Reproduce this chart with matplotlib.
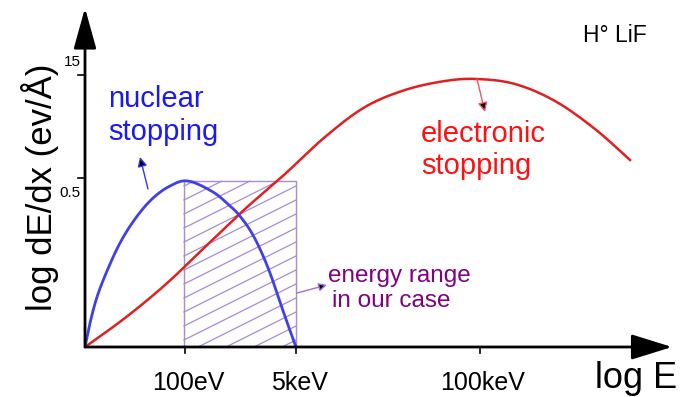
import numpy as np
from matplotlib import pyplot as plt

plt.rcParams['font.family'] = ['Liberation Sans', 'DejaVu Sans']

# schematic units: x = position along log E axis, y = log dE/dx (arbitrary)
nuclearX = [0, 5, 12, 22, 35, 50, 67, 85, 103, 128, 145, 154, 165, 175, 185, 195, 203, 211]
nuclearY = [0, 24, 50, 76, 104, 128, 148, 161, 166, 155, 141, 132, 117, 98, 74, 45, 22, 0]
electronicX = [0, 40, 80, 120, 160, 200, 240, 280, 320, 360, 392, 430, 470, 510, 545]
electronicY = [0, 29, 62, 100, 138, 173, 210, 240, 257, 266, 268, 263, 246, 218, 187]
rangeX = [99, 211]
rangeTop = 166
xTickPos = [100, 211, 395]
xTickLabels = ["100eV", "5keV", "100keV"]
yTickPos = [272, 169]
yTickLabels = ["15", "0.5"]


def smooth(xs, ys, n=20):
    # catmull-rom through the read points
    p = np.column_stack([xs, ys]).astype(float)
    p = np.vstack([p[0], p, p[-1]])
    out = []
    for i in range(1, len(p) - 2):
        p0, p1, p2, p3 = p[i - 1], p[i], p[i + 1], p[i + 2]
        t = np.linspace(0, 1, n, endpoint=False)[:, None]
        seg = 0.5 * ((2 * p1) + (-p0 + p2) * t + (2 * p0 - 5 * p1 + 4 * p2 - p3) * t ** 2
                     + (-p0 + 3 * p1 - 3 * p2 + p3) * t ** 3)
        out.append(seg)
    out.append(p[-2][None, :])
    out = np.vstack(out)
    return out[:, 0], out[:, 1]


fig = plt.figure(figsize=(6.84, 3.97), dpi=100)
ax = fig.add_axes([85 / 684, 50 / 397, 585 / 684, 337 / 397])
ax.set_xlim(0, 585)
ax.set_ylim(0, 337)
ax.axis('off')

# axes with arrows
ax.annotate('', xy=(587, 0), xytext=(0, 0), annotation_clip=False,
            arrowprops=dict(arrowstyle='-|>,head_length=0.9,head_width=0.28', color='black', lw=2,
                            mutation_scale=28, shrinkA=0, shrinkB=0))
ax.annotate('', xy=(0, 339), xytext=(0, 0), annotation_clip=False,
            arrowprops=dict(arrowstyle='-|>,head_length=0.9,head_width=0.25', color='black', lw=2,
                            mutation_scale=28, shrinkA=0, shrinkB=0))

for xt, lab in zip(xTickPos, xTickLabels):
    ax.plot([xt, xt], [0, -6], color='black', lw=1.2, clip_on=False)
    ax.text(xt + 3, -43, lab, ha='center', va='baseline', fontsize=18, clip_on=False)
ax.plot([-7, 0], [yTickPos[0]] * 2, color='black', lw=1.2, clip_on=False)
ax.plot([-7, 0], [yTickPos[1]] * 2, color='black', lw=1.2, clip_on=False)
ax.text(-4, yTickPos[0] + 13, yTickLabels[0], ha='right', va='center', fontsize=11, clip_on=False)
ax.text(-4, yTickPos[1] - 15, yTickLabels[1], ha='right', va='center', fontsize=11, clip_on=False)

ax.text(-45, 160, "log dE/dx (ev/Å)", rotation=90, ha='center', va='center', fontsize=25,
        clip_on=False)
ax.text(551, -31, "log E", ha='center', va='center', fontsize=26, clip_on=False)

# energy range box with slanted hatching
purple = '#a58bd8'
ax.fill_between(rangeX, 0, rangeTop, facecolor='none', edgecolor=purple, lw=1)
x0, x1 = rangeX
for c in np.arange(-0.5 * (x1 - x0) + 7, rangeTop, 14):
    xs = np.linspace(x0, x1, 200)
    ys = c + 0.5 * (xs - x0)
    m = (ys >= 0) & (ys <= rangeTop)
    if m.sum() > 1:
        ax.plot(xs[m], ys[m], color=purple, lw=0.9)

ex, ey = smooth(electronicX, electronicY)
ax.plot(ex, ey, color='#e02020', lw=1.8)
nx, ny = smooth(nuclearX, nuclearY)
ax.plot(nx, ny, color='#4040e8', lw=2)

# labels and pointers
ax.text(23, 240, "nuclear", color='#1a1aee', fontsize=21, va='baseline')
ax.text(23, 207, "stopping", color='#1a1aee', fontsize=21, va='baseline')
ax.annotate('', xy=(55, 190), xytext=(63, 158),
            arrowprops=dict(arrowstyle='-|>', color='#3333ee', fc='black', lw=1,
                            mutation_scale=14, shrinkA=0, shrinkB=0))
ax.text(336, 205, "electronic", color='#ff1111', fontsize=21, va='baseline')
ax.text(336, 173, "stopping", color='#ff1111', fontsize=21, va='baseline')
ax.annotate('', xy=(400, 235), xytext=(392, 268),
            arrowprops=dict(arrowstyle='-|>', color='#ee5566', fc='black', lw=1,
                            mutation_scale=14, shrinkA=0, shrinkB=0))
ax.text(243, 65, "energy range", color='#800080', fontsize=17.5, va='baseline')
ax.text(247, 40, "in our case", color='#800080', fontsize=17.5, va='baseline')
ax.annotate('', xy=(242, 62), xytext=(212, 54),
            arrowprops=dict(arrowstyle='-|>', color='#a070e0', fc='black', lw=1,
                            mutation_scale=12, shrinkA=0, shrinkB=0))
ax.text(498, 305, "H° LiF", fontsize=16.5, va='baseline', clip_on=False)

fig.savefig("out.png", dpi=100)
